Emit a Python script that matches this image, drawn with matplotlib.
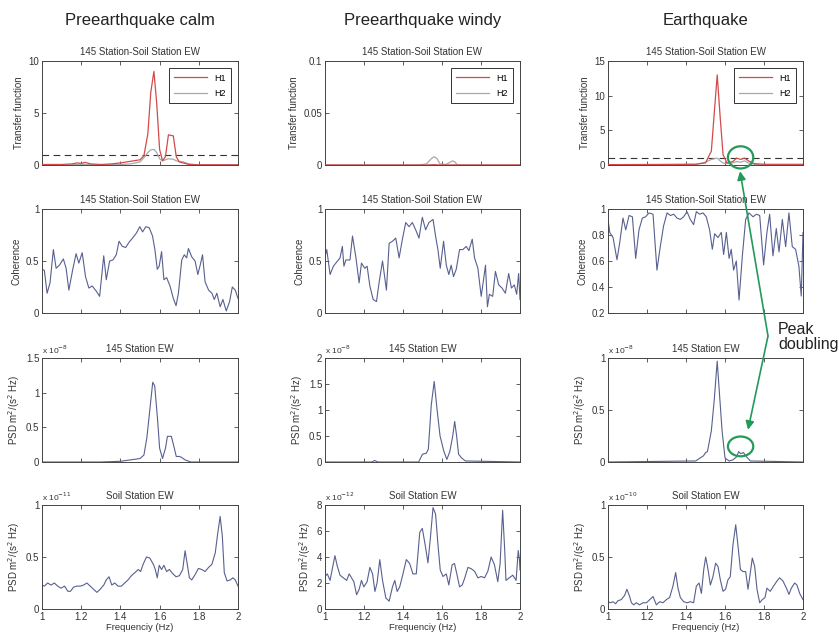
import matplotlib
matplotlib.use("Agg")
import numpy as np
from matplotlib import pyplot as plt
from matplotlib.patches import Ellipse
from matplotlib.ticker import FormatStrFormatter

plt.rcParams['font.family'] = ['Liberation Sans', 'DejaVu Sans']

#################### DATA ####################
col_titles = ["Preearthquake calm", "Preearthquake windy", "Earthquake"]

# transfer functions (H1 / H2)
tf_calm_f = [1.0, 1.1, 1.15, 1.18, 1.2, 1.22, 1.25, 1.3, 1.35, 1.4, 1.45, 1.5, 1.52, 1.54,
             1.555, 1.571, 1.585, 1.6, 1.615, 1.63, 1.645, 1.67, 1.685, 1.7, 1.72, 1.75, 1.8, 2.0]
tf_calm_h1 = [0.05, 0.05, 0.1, 0.2, 0.15, 0.25, 0.1, 0.05, 0.1, 0.2, 0.35, 0.5, 0.9, 3.0,
              7.0, 9.0, 6.0, 1.5, 0.4, 0.8, 2.9, 2.8, 0.8, 0.3, 0.2, 0.05, 0.02, 0.02]
tf_calm_h2 = [0.0, 0.0, 0.02, 0.05, 0.05, 0.05, 0.03, 0.02, 0.03, 0.05, 0.1, 0.3, 0.7, 1.2,
              1.45, 1.5, 1.2, 0.6, 0.4, 0.5, 0.6, 0.55, 0.4, 0.35, 0.3, 0.1, 0.0, 0.0]

tf_windy_f = [1.0, 1.48, 1.52, 1.545, 1.56, 1.575, 1.59, 1.62, 1.645, 1.655, 1.665, 1.68, 2.0]
tf_windy_h1 = [0.0, 0.0, 0.0, 0.0002, 0.0003, 0.0002, 0.0, 0.0, 0.0001, 0.0001, 0.0001, 0.0, 0.0]
tf_windy_h2 = [0.0, 0.0, 0.001, 0.006, 0.008, 0.006, 0.001, 0.0005, 0.003, 0.004, 0.003, 0.0, 0.0]

tf_quake_f = [1.0, 1.45, 1.5, 1.53, 1.545, 1.56, 1.575, 1.59, 1.61, 1.64, 1.66, 1.68, 1.7,
              1.72, 1.75, 1.8, 2.0]
tf_quake_h1 = [0.05, 0.1, 0.3, 2.0, 7.5, 13.0, 7.0, 1.5, 0.3, 0.5, 1.0, 0.8, 1.0, 0.6, 0.2, 0.1, 0.1]
tf_quake_h2 = [0.0, 0.1, 0.4, 0.8, 0.9, 1.0, 0.6, 0.3, 0.2, 0.3, 0.5, 0.4, 0.6, 0.3, 0.1, 0.0, 0.0]

# coherence
coh_calm_f = [1.000, 1.012, 1.026, 1.041, 1.058, 1.072, 1.089, 1.109, 1.123, 1.137, 1.157, 1.174,
              1.188, 1.205, 1.222, 1.239, 1.256, 1.277, 1.294, 1.315, 1.328, 1.345, 1.362, 1.379,
              1.393, 1.410, 1.427, 1.444, 1.462, 1.482, 1.499, 1.513, 1.530, 1.547, 1.564, 1.576,
              1.588, 1.598, 1.610, 1.622, 1.636, 1.653, 1.670, 1.684, 1.696, 1.713, 1.726, 1.738,
              1.747, 1.764, 1.781, 1.795, 1.807, 1.819, 1.832, 1.850, 1.867, 1.879, 1.892, 1.909,
              1.923, 1.940, 1.957, 1.971, 1.986, 2.000]
coh_calm = [0.42, 0.41, 0.19, 0.29, 0.61, 0.43, 0.46, 0.52, 0.43, 0.22, 0.42, 0.57,
            0.48, 0.58, 0.35, 0.24, 0.26, 0.21, 0.16, 0.55, 0.32, 0.50, 0.51, 0.56,
            0.69, 0.64, 0.63, 0.68, 0.72, 0.77, 0.83, 0.78, 0.83, 0.82, 0.74, 0.61,
            0.42, 0.45, 0.59, 0.32, 0.34, 0.26, 0.14, 0.07, 0.19, 0.51, 0.56, 0.53,
            0.62, 0.54, 0.50, 0.37, 0.46, 0.56, 0.30, 0.22, 0.19, 0.13, 0.19, 0.06,
            0.13, 0.02, 0.11, 0.25, 0.22, 0.14]

coh_windy_f = [1.000, 1.009, 1.026, 1.043, 1.060, 1.077, 1.089, 1.097, 1.107, 1.128, 1.141, 1.158,
               1.175, 1.187, 1.204, 1.216, 1.230, 1.247, 1.264, 1.278, 1.295, 1.315, 1.329, 1.346,
               1.363, 1.380, 1.397, 1.414, 1.431, 1.448, 1.465, 1.482, 1.499, 1.516, 1.533, 1.554,
               1.567, 1.579, 1.591, 1.608, 1.622, 1.635, 1.647, 1.659, 1.673, 1.690, 1.707, 1.724,
               1.738, 1.755, 1.767, 1.784, 1.801, 1.813, 1.823, 1.833, 1.843, 1.860, 1.874, 1.891,
               1.908, 1.925, 1.942, 1.956, 1.971, 1.983, 1.993, 2.000]
coh_windy = [0.54, 0.61, 0.37, 0.45, 0.49, 0.53, 0.64, 0.45, 0.51, 0.51, 0.74, 0.54,
             0.29, 0.48, 0.43, 0.45, 0.26, 0.13, 0.11, 0.30, 0.50, 0.22, 0.67, 0.69,
             0.72, 0.53, 0.71, 0.87, 0.83, 0.87, 0.80, 0.72, 0.92, 0.80, 0.87, 0.90,
             0.74, 0.61, 0.43, 0.69, 0.46, 0.37, 0.46, 0.35, 0.42, 0.61, 0.61, 0.64,
             0.60, 0.71, 0.53, 0.43, 0.16, 0.32, 0.46, 0.06, 0.18, 0.16, 0.40, 0.27,
             0.24, 0.19, 0.38, 0.24, 0.27, 0.18, 0.38, 0.13]

coh_quake_f = [1.000, 1.009, 1.026, 1.046, 1.060, 1.077, 1.091, 1.108, 1.125, 1.142, 1.159, 1.176,
               1.193, 1.210, 1.231, 1.251, 1.268, 1.285, 1.303, 1.320, 1.337, 1.354, 1.371, 1.388,
               1.405, 1.422, 1.439, 1.453, 1.470, 1.487, 1.504, 1.521, 1.535, 1.547, 1.564, 1.581,
               1.593, 1.607, 1.621, 1.632, 1.644, 1.658, 1.672, 1.689, 1.706, 1.723, 1.744, 1.761,
               1.778, 1.798, 1.815, 1.829, 1.846, 1.863, 1.877, 1.894, 1.911, 1.928, 1.945, 1.962,
               1.979, 1.991, 2.000]
coh_quake = [0.92, 0.82, 0.78, 0.61, 0.74, 0.93, 0.84, 0.95, 0.94, 0.62, 0.84, 0.93,
             0.94, 0.97, 0.96, 0.53, 0.71, 0.87, 0.97, 0.95, 0.96, 0.93, 0.92, 0.94,
             0.98, 0.92, 0.88, 0.98, 0.96, 0.97, 0.94, 0.84, 0.69, 0.81, 0.78, 0.82,
             0.65, 0.82, 0.62, 0.69, 0.53, 0.60, 0.30, 0.64, 0.92, 0.97, 0.94, 0.96,
             0.95, 0.57, 0.82, 0.96, 0.64, 0.85, 0.67, 0.92, 0.71, 0.97, 0.71, 0.69,
             0.56, 0.33, 0.82]

# PSD 145 station EW (units of 1e-8)
psd145_calm_f = [1.0, 1.3, 1.4, 1.45, 1.5, 1.52, 1.535, 1.55, 1.565, 1.575, 1.59, 1.6, 1.615,
                 1.63, 1.64, 1.66, 1.675, 1.685, 1.7, 1.71, 1.73, 1.76, 2.0]
psd145_calm = [0.0, 0.0, 0.01, 0.03, 0.05, 0.10, 0.35, 0.75, 1.15, 1.10, 0.6, 0.2, 0.05,
               0.2, 0.37, 0.37, 0.2, 0.08, 0.08, 0.07, 0.03, 0.0, 0.0]
psd145_windy_f = [1.0, 1.24, 1.255, 1.27, 1.48, 1.5, 1.52, 1.53, 1.545, 1.56, 1.575, 1.59,
                  1.61, 1.625, 1.64, 1.655, 1.665, 1.675, 1.685, 1.7, 1.72, 2.0]
psd145_windy = [0.0, 0.0, 0.03, 0.0, 0.0, 0.15, 0.17, 0.25, 1.1, 1.55, 1.0, 0.5,
                0.2, 0.05, 0.2, 0.5, 0.78, 0.5, 0.15, 0.08, 0.02, 0.0]
psd145_quake_f = [1.0, 1.45, 1.49, 1.5, 1.51, 1.53, 1.545, 1.56, 1.57, 1.585, 1.6, 1.62,
                  1.64, 1.66, 1.67, 1.68, 1.695, 1.71, 1.73, 2.0]
psd145_quake = [0.0, 0.01, 0.06, 0.09, 0.10, 0.3, 0.6, 0.97, 0.7, 0.3, 0.04, 0.01,
                0.02, 0.05, 0.10, 0.08, 0.09, 0.05, 0.01, 0.0]

# PSD soil station EW (calm 1e-11, windy 1e-12, quake 1e-10)
soil_calm_f = [1.000, 1.012, 1.029, 1.046, 1.063, 1.080, 1.097, 1.115, 1.132, 1.145, 1.161, 1.178,
               1.195, 1.212, 1.229, 1.246, 1.263, 1.280, 1.297, 1.315, 1.328, 1.342, 1.356, 1.371,
               1.388, 1.405, 1.422, 1.439, 1.456, 1.474, 1.491, 1.503, 1.516, 1.533, 1.550, 1.568,
               1.578, 1.588, 1.598, 1.610, 1.622, 1.636, 1.650, 1.667, 1.684, 1.701, 1.718, 1.730,
               1.742, 1.752, 1.764, 1.781, 1.798, 1.815, 1.832, 1.850, 1.867, 1.884, 1.896, 1.909,
               1.920, 1.930, 1.944, 1.961, 1.974, 1.986, 2.000]
soil_calm = [0.23, 0.22, 0.25, 0.23, 0.25, 0.22, 0.20, 0.22, 0.17, 0.17, 0.21, 0.22,
             0.22, 0.23, 0.25, 0.22, 0.19, 0.16, 0.19, 0.23, 0.28, 0.31, 0.23, 0.25,
             0.22, 0.22, 0.25, 0.28, 0.32, 0.35, 0.38, 0.36, 0.43, 0.50, 0.49, 0.43,
             0.38, 0.30, 0.42, 0.38, 0.42, 0.36, 0.38, 0.34, 0.31, 0.32, 0.38, 0.56,
             0.42, 0.30, 0.28, 0.33, 0.39, 0.38, 0.36, 0.40, 0.43, 0.54, 0.72, 0.89,
             0.70, 0.35, 0.27, 0.28, 0.30, 0.28, 0.22]

soil_windy_f = [1.000, 1.012, 1.026, 1.039, 1.051, 1.063, 1.077, 1.094, 1.111, 1.124, 1.136, 1.148,
                1.162, 1.175, 1.187, 1.199, 1.216, 1.230, 1.244, 1.256, 1.267, 1.281, 1.295, 1.312,
                1.329, 1.346, 1.358, 1.370, 1.383, 1.400, 1.417, 1.434, 1.451, 1.468, 1.486, 1.499,
                1.514, 1.528, 1.540, 1.554, 1.567, 1.579, 1.591, 1.605, 1.622, 1.635, 1.652, 1.664,
                1.676, 1.690, 1.704, 1.717, 1.733, 1.750, 1.767, 1.784, 1.801, 1.818, 1.835, 1.852,
                1.869, 1.886, 1.898, 1.911, 1.922, 1.928, 1.945, 1.963, 1.980, 1.991, 1.997, 2.000]
soil_windy = [2.5, 2.7, 2.2, 3.2, 4.1, 3.3, 2.6, 2.4, 2.2, 2.7, 2.4, 2.1,
              1.1, 1.5, 2.2, 1.7, 2.1, 3.2, 2.7, 1.35, 2.0, 3.8, 2.2, 0.85,
              0.6, 1.7, 2.2, 1.35, 1.7, 2.7, 3.8, 3.5, 2.7, 2.7, 5.9, 6.2,
              4.9, 3.55, 5.4, 7.8, 7.3, 5.0, 3.0, 2.5, 2.7, 1.85, 3.4, 3.5,
              2.7, 1.7, 1.85, 2.4, 3.2, 3.1, 2.9, 2.4, 2.5, 2.4, 2.9, 4.0,
              3.4, 2.1, 3.5, 7.6, 4.4, 2.2, 2.4, 2.6, 2.2, 4.5, 3.8, 3.0]

soil_quake_f = [1.000, 1.012, 1.026, 1.039, 1.051, 1.068, 1.085, 1.097, 1.111, 1.120, 1.132, 1.145,
                1.162, 1.179, 1.197, 1.214, 1.231, 1.248, 1.265, 1.282, 1.299, 1.316, 1.333, 1.347,
                1.359, 1.371, 1.388, 1.405, 1.422, 1.439, 1.453, 1.467, 1.479, 1.491, 1.501, 1.513,
                1.525, 1.538, 1.552, 1.564, 1.576, 1.590, 1.603, 1.615, 1.627, 1.641, 1.655, 1.667,
                1.679, 1.692, 1.706, 1.718, 1.730, 1.740, 1.752, 1.764, 1.778, 1.791, 1.805, 1.815,
                1.832, 1.849, 1.867, 1.880, 1.897, 1.915, 1.928, 1.940, 1.957, 1.969, 1.983, 2.000]
soil_quake = [0.07, 0.06, 0.07, 0.05, 0.08, 0.09, 0.13, 0.19, 0.12, 0.06, 0.04, 0.06,
              0.04, 0.06, 0.06, 0.09, 0.12, 0.04, 0.07, 0.06, 0.09, 0.11, 0.22, 0.35,
              0.20, 0.11, 0.07, 0.06, 0.07, 0.06, 0.22, 0.25, 0.15, 0.38, 0.50, 0.38,
              0.23, 0.31, 0.44, 0.41, 0.28, 0.17, 0.19, 0.28, 0.31, 0.62, 0.81, 0.60,
              0.38, 0.36, 0.36, 0.19, 0.35, 0.49, 0.41, 0.19, 0.06, 0.09, 0.11, 0.20,
              0.17, 0.22, 0.27, 0.30, 0.27, 0.20, 0.14, 0.20, 0.25, 0.23, 0.15, 0.09]

psd145_exp = ["-8", "-8", "-8"]
soil_exp = ["-11", "-12", "-10"]
#################### END DATA ####################

RED = '#d24b4b'
GRAY = '#a8a8a8'
BLUE = '#58608f'
GREEN = '#249a5a'
TXT = '#333333'

W, H = 839, 639
fig = plt.figure(figsize=(W / 100, H / 100), dpi=100)

col_left = [42, 325, 608]
col_w = [196, 195, 195]
row_top = [61, 209, 358, 505]
row_h = 104


def make_ax(r, c):
    ax = fig.add_axes([col_left[c] / W, 1 - (row_top[r] + row_h) / H, col_w[c] / W, row_h / H])
    ax.patch.set_alpha(0)
    ax.set_xlim(1, 2)
    ax.set_xticks([1, 1.2, 1.4, 1.6, 1.8, 2])
    ax.xaxis.set_major_formatter(FormatStrFormatter('%g'))
    ax.yaxis.set_major_formatter(FormatStrFormatter('%g'))
    ax.tick_params(direction='in', top=True, right=True, length=3, width=0.6,
                   labelsize=7, colors='#444444', labelcolor=TXT, pad=2)
    for s in ax.spines.values():
        s.set_linewidth(0.7)
        s.set_color('#444444')
    if r < 3:
        ax.tick_params(labelbottom=False)
    else:
        ax.set_xlabel("Frequenciy (Hz)", fontsize=6.8, color=TXT, labelpad=1)
    return ax


def sci_label(ax, e):
    ax.text(0, 1.02, "x 10$^{%s}$" % e, transform=ax.transAxes, fontsize=6,
            color=TXT, ha='left', va='bottom')


# row 1: transfer functions
tf_sets = [(tf_calm_f, tf_calm_h1, tf_calm_h2, 10, [0, 5, 10], True),
           (tf_windy_f, tf_windy_h1, tf_windy_h2, 0.1, [0, 0.05, 0.1], False),
           (tf_quake_f, tf_quake_h1, tf_quake_h2, 15, [0, 5, 10, 15], True)]
axes = {}
for c, (f, h1, h2, top, ticks, dash) in enumerate(tf_sets):
    ax = make_ax(0, c)
    ax.plot(f, h2, color=GRAY, lw=0.9, label='H2', zorder=2)
    ax.plot(f, h1, color=RED, lw=0.9, label='H1', zorder=3)
    if dash:
        ax.axhline(1, color='#333333', lw=0.8, ls=(0, (6, 4)), zorder=1)
    ax.set_ylim(0, top)
    ax.set_yticks(ticks)
    h, l = ax.get_legend_handles_labels()
    leg = ax.legend(h[::-1], l[::-1], loc='upper right', fontsize=6.5, frameon=True,
                    fancybox=False, edgecolor='#333333', handlelength=3.6,
                    borderpad=0.6, labelspacing=0.7, borderaxespad=0.8, framealpha=1)
    leg.get_frame().set_linewidth(0.7)
    ax.set_title("145 Station-Soil Station EW", fontsize=7, color=TXT, pad=4)
    ax.set_ylabel("Transfer function", fontsize=7, color=TXT, labelpad=3)
    ax.text(0.5, 1 + 41 / row_h, col_titles[c], transform=ax.transAxes,
            ha='center', va='center', fontsize=12, color='#222222')
    axes[(0, c)] = ax

# row 2: coherence
coh_sets = [(coh_calm_f, coh_calm, (0, 1), [0, 0.5, 1]),
            (coh_windy_f, coh_windy, (0, 1), [0, 0.5, 1]),
            (coh_quake_f, coh_quake, (0.2, 1), [0.2, 0.4, 0.6, 0.8, 1])]
for c, (f, v, lim, ticks) in enumerate(coh_sets):
    ax = make_ax(1, c)
    ax.plot(f, v, color=BLUE, lw=0.8)
    ax.set_ylim(*lim)
    ax.set_yticks(ticks)
    ax.set_title("145 Station-Soil Station EW", fontsize=7, color=TXT, pad=4)
    ax.set_ylabel("Coherence", fontsize=7, color=TXT, labelpad=3)
    axes[(1, c)] = ax

# row 3: PSD 145 station
p_sets = [(psd145_calm_f, psd145_calm, 1.5, [0, 0.5, 1, 1.5]),
          (psd145_windy_f, psd145_windy, 2, [0, 0.5, 1, 1.5, 2]),
          (psd145_quake_f, psd145_quake, 1, [0, 0.5, 1])]
for c, (f, v, top, ticks) in enumerate(p_sets):
    ax = make_ax(2, c)
    ax.plot(f, v, color=BLUE, lw=0.8)
    ax.set_ylim(0, top)
    ax.set_yticks(ticks)
    ax.set_title("145 Station EW", fontsize=7, color=TXT, pad=4)
    ax.set_ylabel("PSD m$^2$/(s$^2$ Hz)", fontsize=7, color=TXT, labelpad=3)
    sci_label(ax, psd145_exp[c])
    axes[(2, c)] = ax

# row 4: PSD soil station
s_sets = [(soil_calm_f, soil_calm, 1, [0, 0.5, 1]),
          (soil_windy_f, soil_windy, 8, [0, 2, 4, 6, 8]),
          (soil_quake_f, soil_quake, 1, [0, 0.5, 1])]
for c, (f, v, top, ticks) in enumerate(s_sets):
    ax = make_ax(3, c)
    ax.plot(f, v, color=BLUE, lw=0.8)
    ax.set_ylim(0, top)
    ax.set_yticks(ticks)
    ax.set_title("Soil Station EW", fontsize=7, color=TXT, pad=4)
    ax.set_ylabel("PSD m$^2$/(s$^2$ Hz)", fontsize=7, color=TXT, labelpad=3)
    sci_label(ax, soil_exp[c])
    axes[(3, c)] = ax

# peak doubling annotation
a1, a3 = axes[(0, 2)], axes[(2, 2)]
a1.add_patch(Ellipse((1.68, 1.1), 0.13, 3.2, fill=False, ec=GREEN, lw=1.6, clip_on=False, zorder=5))
a3.add_patch(Ellipse((1.68, 0.15), 0.13, 0.19, fill=False, ec=GREEN, lw=1.6, clip_on=False, zorder=5))
tail = (768 / W, 1 - 336 / H)
arrow = dict(arrowstyle='-|>,head_length=0.5,head_width=0.25', color=GREEN, lw=1.2,
             shrinkA=0, shrinkB=0)
a3.annotate('', xy=(1.677, -0.9), xycoords=a1.transData, xytext=tail,
            textcoords='figure fraction', arrowprops=arrow, annotation_clip=False, zorder=6)
a3.annotate('', xy=(1.718, 0.31), xycoords='data', xytext=tail,
            textcoords='figure fraction', arrowprops=arrow, annotation_clip=False, zorder=6)
fig.text(778 / W, 1 - 337 / H, "Peak\ndoubling", fontsize=11.5, color='#222222',
         ha='left', va='center', linespacing=1.05)

fig.savefig("out.png", dpi=100)
